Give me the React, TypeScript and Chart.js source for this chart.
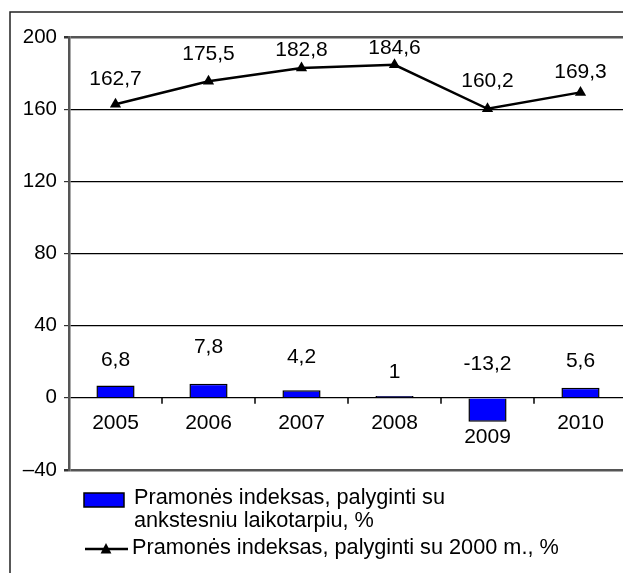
import React, { useEffect, useRef } from "react";
import { Chart, registerables } from "chart.js";

Chart.register(...registerables);

const years = ["2005", "2006", "2007", "2008", "2009", "2010"];
const prevPeriodIndex = [6.8, 7.8, 4.2, 1, -13.2, 5.6];
const base2000Index = [162.7, 175.5, 182.8, 184.6, 160.2, 169.3];
const yTicks = [200, 160, 120, 80, 40, 0, -40];
const barLegend = ["Pramonės indeksas, palyginti su", "ankstesniu laikotarpiu, %"];
const lineLegend = "Pramonės indeksas, palyginti su 2000 m., %";

const fmt = (v: number) => String(v).replace(".", ",");
const FAMILY = "'Liberation Sans', Arial, sans-serif";
const FONT = "21px " + FAMILY;
const LEGEND_FONT = "21.7px " + FAMILY;

const drawTriangle = (ctx: CanvasRenderingContext2D, x: number, y: number, r: number) => {
  ctx.beginPath();
  ctx.moveTo(x, y - r);
  ctx.lineTo(x + r * 0.9, y + r * 0.75);
  ctx.lineTo(x - r * 0.9, y + r * 0.75);
  ctx.closePath();
  ctx.fill();
};

const customPlugin = {
  id: "custom",
  beforeDraw(chart: any) {
    const ctx = chart.ctx;
    ctx.save();
    ctx.strokeStyle = "#222";
    ctx.lineWidth = 1.5;
    ctx.beginPath();
    ctx.moveTo(10, 700);
    ctx.lineTo(10, 12);
    ctx.lineTo(700, 12);
    ctx.stroke();
    ctx.restore();
  },
  afterDraw(chart: any) {
    const ctx = chart.ctx;
    const x = chart.scales.x;
    const y = chart.scales.y;
    const zeroY = y.getPixelForValue(0);
    ctx.save();
    // category boundary ticks
    ctx.strokeStyle = "#000";
    ctx.lineWidth = 1.5;
    for (let i = 1; i < years.length; i++) {
      const px = (x.getPixelForValue(i - 1) + x.getPixelForValue(i)) / 2;
      ctx.beginPath();
      ctx.moveTo(px, zeroY);
      ctx.lineTo(px, zeroY + 6);
      ctx.stroke();
    }
    ctx.font = FONT;
    ctx.fillStyle = "#000";
    ctx.textAlign = "center";
    ctx.textBaseline = "middle";
    // category labels
    years.forEach((lab, i) => {
      const px = x.getPixelForValue(i);
      const v = prevPeriodIndex[i];
      const ly = v < 0 ? y.getPixelForValue(v) + 16 : zeroY + 25;
      ctx.fillText(lab, px, ly);
    });
    // bar value labels
    const barLift = [25, 37, 33, 24, 34, 27];
    prevPeriodIndex.forEach((v, i) => {
      const px = x.getPixelForValue(i);
      const top = y.getPixelForValue(Math.max(v, 0));
      ctx.fillText(fmt(v), px, top - barLift[i]);
    });
    // line value labels
    const lineLift = [25, 27, 18, 17, 28, 20];
    base2000Index.forEach((v, i) => {
      const px = x.getPixelForValue(i);
      ctx.fillText(fmt(v), px, y.getPixelForValue(v) - lineLift[i]);
    });
    // legend
    ctx.font = LEGEND_FONT;
    ctx.textAlign = "left";
    ctx.fillStyle = "#0000ff";
    ctx.fillRect(84, 493, 40, 14);
    ctx.strokeStyle = "#000";
    ctx.lineWidth = 1.5;
    ctx.strokeRect(84, 493, 40, 14);
    ctx.fillStyle = "#000";
    ctx.fillText(barLegend[0], 134, 498);
    ctx.fillText(barLegend[1], 134, 521);
    ctx.lineWidth = 2.5;
    ctx.beginPath();
    ctx.moveTo(85, 549);
    ctx.lineTo(128, 549);
    ctx.stroke();
    drawTriangle(ctx, 106, 549, 6);
    ctx.fillText(lineLegend, 132, 548);
    ctx.restore();
  },
};

export default function App() {
  const ref = useRef<HTMLCanvasElement>(null);
  useEffect(() => {
    if (!ref.current) return;
    Chart.defaults.font.family = FAMILY;
    Chart.defaults.font.size = 21;
    Chart.defaults.color = "#000";
    const chart = new Chart(ref.current, {
      data: {
        labels: years,
        datasets: [
          {
            type: "line",
            label: lineLegend,
            data: base2000Index,
            borderColor: "#000",
            backgroundColor: "#000",
            borderWidth: 2.5,
            pointStyle: "triangle",
            pointRadius: 6.5,
            pointBorderWidth: 0,
            pointBackgroundColor: "#000",
            tension: 0,
            order: 0,
          },
          {
            type: "bar",
            label: barLegend.join(" "),
            data: prevPeriodIndex,
            backgroundColor: "#0000ff",
            borderColor: "#000",
            borderWidth: 1.5,
            categoryPercentage: 1,
            barPercentage: 0.41,
            order: 1,
          },
        ],
      } as any,
      options: {
        animation: false,
        responsive: false,
        layout: { padding: { left: 0, top: 37, right: 13, bottom: 130 } },
        plugins: { legend: { display: false }, tooltip: { enabled: false } },
        scales: {
          x: {
            offset: true,
            ticks: { display: false },
            grid: { display: false },
            border: { display: false },
            afterFit: (s: any) => {
              s.height = 0;
            },
          },
          y: {
            min: -40,
            max: 200,
            afterBuildTicks: (s: any) => {
              s.ticks = yTicks.map((v) => ({ value: v }));
            },
            afterFit: (s: any) => {
              s.width = 69;
            },
            ticks: {
              padding: 7,
              font: { size: 20.5 },
              color: "#000",
              callback: (v: any) => (v < 0 ? "–" + Math.abs(v) : String(v)),
            },
            grid: {
              tickLength: 5,
              tickColor: "#333",
              color: (c: any) =>
                c.tick && (c.tick.value === 200 || c.tick.value === -40) ? "#555" : "#000",
              lineWidth: (c: any) =>
                c.tick && (c.tick.value === 200 || c.tick.value === -40) ? 2.5 : 1.2,
            },
            border: { color: "#555", width: 2.5 },
          },
        },
      } as any,
      plugins: [customPlugin],
    });
    return () => chart.destroy();
  }, []);
  return (
    <div
      style={{
        position: "fixed",
        left: 0,
        top: 0,
        width: 623,
        height: 573,
        overflow: "hidden",
        background: "#fff",
      }}
    >
      <canvas ref={ref} width={640} height={600} style={{ display: "block" }} />
    </div>
  );
}
